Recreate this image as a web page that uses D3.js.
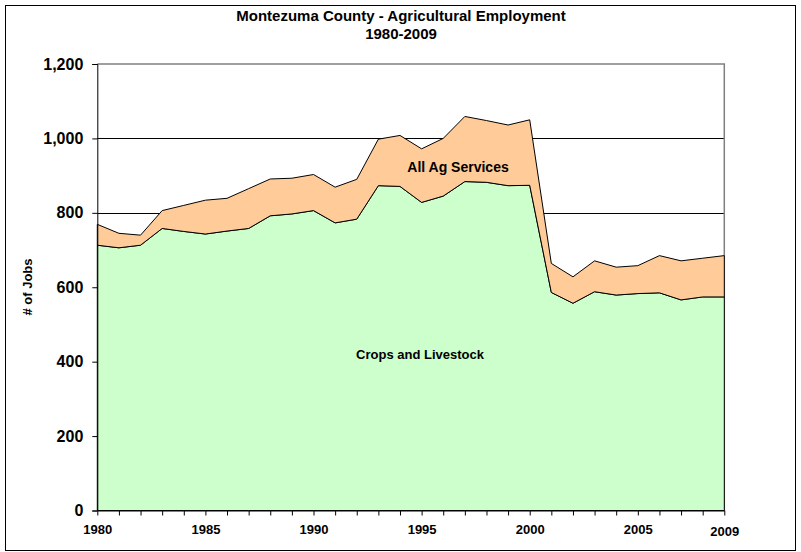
<!DOCTYPE html>
<html>
<head>
<meta charset="utf-8">
<script src="https://cdn.jsdelivr.net/npm/d3@7"></script>
<style>
  body { margin: 0; background: #fff; }
  svg { display: block; font-family: "Liberation Sans", Arial, sans-serif; font-weight: bold; }
</style>
</head>
<body>
<div id="chart"></div>
<script>
// Montezuma County agricultural employment, 1980-2009
const years = [1980, 1981, 1982, 1983, 1984, 1985, 1986, 1987, 1988, 1989,
               1990, 1991, 1992, 1993, 1994, 1995, 1996, 1997, 1998, 1999,
               2000, 2001, 2002, 2003, 2004, 2005, 2006, 2007, 2008, 2009];
const crops = [713, 706, 713, 758, 750, 743, 751, 758, 792, 797,
               806, 773, 783, 873, 871, 828, 845, 884, 882, 873,
               874, 586, 557, 588, 579, 583, 585, 566, 574, 574];
const services = [56, 39, 27, 48, 70, 91, 88, 107, 99, 96,
                  97, 96, 107, 125, 137, 144, 155, 175, 166, 163,
                  176, 78, 71, 83, 75, 75, 100, 105, 104, 111];
const seriesNames = ['Crops and Livestock', 'All Ag Services'];
const seriesColors = ['#ccffcc', '#ffcc99'];
const yTicks = [0, 200, 400, 600, 800, 1000, 1200];
const xLabels = [1980, 1985, 1990, 1995, 2000, 2005, 2009];

const width = 801;
const height = 552;
const plot = { left: 97.3, right: 724.3, top: 64, bottom: 510.5 };

const svg = d3.select('#chart').append('svg')
    .attr('width', width)
    .attr('height', height);

// outer frame
svg.append('rect')
    .attr('x', 5.5).attr('y', 5.5)
    .attr('width', 790).attr('height', 545)
    .attr('fill', '#fff')
    .attr('stroke', '#000');

const x = d3.scaleLinear().domain([1980, 2009]).range([plot.left, plot.right]);
const y = d3.scaleLinear().domain([0, 1200]).range([plot.bottom, plot.top]);

// gridlines
svg.append('g')
    .selectAll('line')
    .data(yTicks.filter(d => d > 0 && d < 1200))
    .enter().append('line')
    .attr('x1', plot.left).attr('x2', plot.right)
    .attr('y1', d => Math.round(y(d)) + 0.5).attr('y2', d => Math.round(y(d)) + 0.5)
    .attr('stroke', '#000');

// plot border (top / right)
svg.append('path')
    .attr('d', `M${plot.left},${plot.top}H${plot.right}V${plot.bottom}`)
    .attr('fill', 'none')
    .attr('stroke', '#808080')
    .attr('stroke-width', 1.5);

const table = years.map((yr, i) => ({ year: yr, crops: crops[i], services: services[i] }));
const stacked = d3.stack().keys(['crops', 'services'])(table);

const area = d3.area()
    .x(d => x(d.data.year))
    .y0(d => y(d[0]))
    .y1(d => y(d[1]));

svg.append('g')
    .selectAll('path')
    .data(stacked)
    .enter().append('path')
    .attr('d', area)
    .attr('fill', (d, i) => seriesColors[i])
    .attr('stroke', '#000')
    .attr('stroke-width', 1)
    .attr('stroke-linejoin', 'round');

// axes
const yAxis = d3.axisLeft(y)
    .tickValues(yTicks)
    .tickSize(5)
    .tickPadding(9)
    .tickFormat(d3.format(','));

svg.append('g')
    .attr('transform', `translate(${plot.left},0)`)
    .call(yAxis)
    .call(g => g.select('.domain').attr('stroke', '#000'))
    .call(g => g.selectAll('text')
        .style('font-size', '16px')
        .style('font-family', '"Liberation Sans", Arial, sans-serif')
        .style('font-weight', 'bold')
        .attr('fill', '#000'));

const xAxis = d3.axisBottom(x)
    .tickValues(years)
    .tickSize(5)
    .tickSizeOuter(0)
    .tickFormat(d => xLabels.includes(d) ? d : '');

svg.append('g')
    .attr('transform', `translate(0,${plot.bottom})`)
    .call(xAxis)
    .call(g => g.select('.domain').attr('stroke', '#000'))
    .call(g => g.selectAll('text')
        .attr('y', d => d === 2009 ? 25 : 23)
        .attr('dy', 0)
        .style('font-size', '13px')
        .style('font-family', '"Liberation Sans", Arial, sans-serif')
        .style('font-weight', 'bold')
        .attr('fill', '#000'));

// y axis title
svg.append('text')
    .attr('transform', 'translate(32,287) rotate(-90)')
    .attr('text-anchor', 'middle')
    .style('font-size', '13px')
    .text('# of Jobs');

// chart title
svg.append('text')
    .attr('x', 401).attr('y', 21)
    .attr('text-anchor', 'middle')
    .style('font-size', '15px')
    .text('Montezuma County - Agricultural Employment');
svg.append('text')
    .attr('x', 401).attr('y', 39)
    .attr('text-anchor', 'middle')
    .style('font-size', '15px')
    .text('1980-2009');

// series labels inside the areas
svg.append('text')
    .attr('x', 420).attr('y', 359)
    .attr('text-anchor', 'middle')
    .style('font-size', '13px')
    .text(seriesNames[0]);
svg.append('text')
    .attr('x', 458).attr('y', 172)
    .attr('text-anchor', 'middle')
    .style('font-size', '14px')
    .text(seriesNames[1]);
</script>
</body>
</html>
